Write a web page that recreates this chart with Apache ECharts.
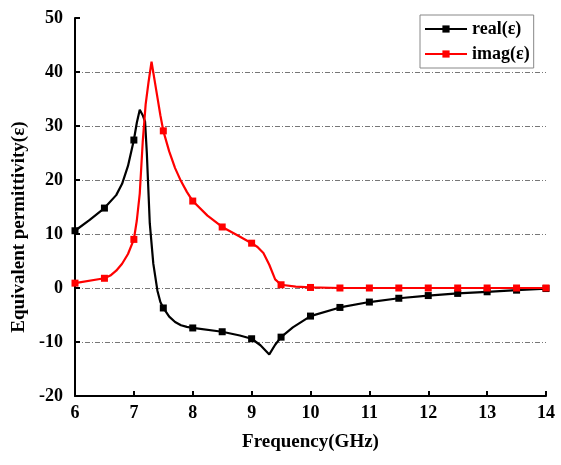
<!DOCTYPE html>
<html>
<head>
<meta charset="utf-8">
<script src="https://cdn.jsdelivr.net/npm/echarts@6/dist/echarts.min.js"></script>
<style>
  html, body { margin: 0; padding: 0; background: #fff; }
  #chart { width: 561px; height: 465px; }
</style>
</head>
<body>
<div id="chart"></div>
<script>
// frequency (GHz) / value pairs
const realCurve = [
  [6.0, 10.6], [6.25, 12.6], [6.5, 14.8], [6.7, 17.2], [6.8, 19.3], [6.9, 22.6],
  [7.0, 27.4], [7.05, 30.6], [7.1, 33.0], [7.15, 32.0], [7.19, 30.8], [7.22, 25.0],
  [7.27, 12.0], [7.33, 4.5], [7.4, -0.5], [7.45, -2.6], [7.5, -3.7], [7.6, -5.3],
  [7.7, -6.3], [7.8, -6.9], [7.9, -7.2], [8.0, -7.4], [8.5, -8.1], [8.8, -8.8],
  [9.0, -9.4], [9.15, -10.6], [9.3, -12.3], [9.4, -10.5], [9.5, -9.1], [9.7, -7.3],
  [10.0, -5.2], [10.5, -3.6], [11.0, -2.6], [11.5, -1.9], [12.0, -1.4], [12.5, -1.0],
  [13.0, -0.7], [13.5, -0.4], [14.0, -0.1]
]
const imagCurve = [
  [6.0, 0.9], [6.5, 1.8], [6.6, 2.3], [6.7, 3.2], [6.8, 4.5], [6.9, 6.3],
  [7.0, 9.0], [7.05, 12.5], [7.1, 17.5], [7.15, 27.0], [7.2, 34.0], [7.25, 38.2],
  [7.3, 41.9], [7.35, 38.6], [7.4, 35.3], [7.45, 32.0], [7.5, 29.1], [7.6, 25.3],
  [7.7, 22.2], [7.8, 19.8], [7.9, 17.8], [8.0, 16.1], [8.25, 13.4], [8.5, 11.3],
  [8.75, 9.8], [9.0, 8.3], [9.1, 7.6], [9.2, 6.5], [9.3, 4.3], [9.4, 1.6],
  [9.5, 0.6], [9.75, 0.25], [10.0, 0.1], [10.5, 0.0], [11.0, 0.0], [11.5, 0.0],
  [12.0, 0.0], [12.5, 0.0], [13.0, 0.0], [13.5, 0.0], [14.0, 0.0]
]
const seriesNames = ['real(ε)', 'imag(ε)']
const seriesColors = ['#000000', '#ff0000']
const xTicks = { min: 6, max: 14, interval: 1 }
const yTicks = { min: -20, max: 50, interval: 10 }

const font = 'Liberation Serif, Times New Roman, serif'

// only every 0.5 GHz point carries a marker
const withMarkers = (curve) => curve.map(([x, y]) => {
  const onStep = Math.abs(x * 2 - Math.round(x * 2)) < 1e-6
  return onStep ? [x, y] : { value: [x, y], symbol: 'none' }
})

const makeSeries = (name, curve, color) => ({
  name,
  type: 'line',
  data: withMarkers(curve),
  symbol: 'rect',
  symbolSize: 7,
  showAllSymbol: true,
  color,
  lineStyle: { color, width: 2.2 },
  itemStyle: { color },
  animation: false,
  z: name === seriesNames[1] ? 3 : 2
})

const chart = echarts.init(document.getElementById('chart'))
chart.setOption({
  backgroundColor: '#fff',
  animation: false,
  grid: { left: 75, right: 15, top: 18, bottom: 69 },
  legend: {
    orient: 'vertical',
    left: 420,
    top: 15,
    padding: [5, 4, 5, 4],
    itemWidth: 42,
    itemHeight: 9,
    itemGap: 7,
    borderColor: '#888',
    borderWidth: 1,
    backgroundColor: '#fff',
    textStyle: { fontFamily: font, fontWeight: 'bold', fontSize: 18, color: '#000' },
    data: seriesNames
  },
  xAxis: {
    type: 'value',
    ...xTicks,
    name: 'Frequency(GHz)',
    nameLocation: 'middle',
    nameGap: 37,
    nameTextStyle: { fontFamily: font, fontWeight: 'bold', fontSize: 19, color: '#000' },
    axisLine: { onZero: false, lineStyle: { color: '#000', width: 2 } },
    axisTick: { inside: true, length: 5, lineStyle: { color: '#000', width: 2 } },
    axisLabel: { margin: 8, fontFamily: font, fontWeight: 'bold', fontSize: 18, color: '#000' },
    splitLine: { show: false }
  },
  yAxis: {
    type: 'value',
    ...yTicks,
    name: 'Equivalent permittivity(ε)',
    nameLocation: 'middle',
    nameGap: 41,
    nameTextStyle: {
      fontFamily: font, fontWeight: 'bold', fontSize: 19, color: '#000',
      padding: [0, 40, 0, 0]
    },
    axisLine: { show: true, onZero: false, lineStyle: { color: '#000', width: 2 } },
    axisTick: { show: true, inside: true, length: 5, lineStyle: { color: '#000', width: 2 } },
    axisLabel: { margin: 12, fontFamily: font, fontWeight: 'bold', fontSize: 18, color: '#000' },
    splitLine: {
      show: true,
      showMinLine: false,
      showMaxLine: false,
      lineStyle: { color: '#777', width: 1, type: [5, 2, 1, 2] }
    }
  },
  series: [
    makeSeries(seriesNames[0], realCurve, seriesColors[0]),
    makeSeries(seriesNames[1], imagCurve, seriesColors[1])
  ]
})
</script>
</body>
</html>
